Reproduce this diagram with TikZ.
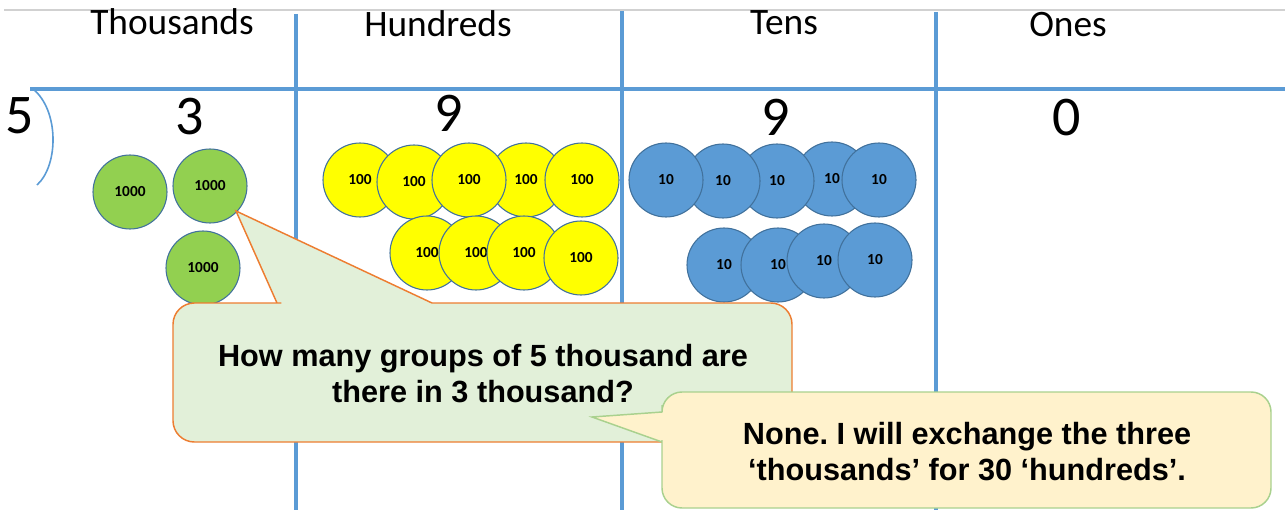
\documentclass[tikz,border=0pt]{standalone}
\usepackage{fontspec}
\setmainfont{Carlito}
\newfontfamily\callfont{Liberation Sans}
\frenchspacing
\definecolor{gridblue}{HTML}{5B9BD5}
\definecolor{coinedge}{HTML}{41719C}
\definecolor{coingreen}{HTML}{92D050}
\definecolor{coinyellow}{HTML}{FFFF00}
\definecolor{coinblue}{HTML}{5B9BD5}
\definecolor{qfill}{HTML}{E2F0D9}
\definecolor{qedge}{HTML}{ED7D31}
\definecolor{afill}{HTML}{FFF2CC}
\definecolor{aedge}{HTML}{A9D18E}
\begin{document}
\begin{tikzpicture}[x=0.75pt,y=-0.75pt,
  coin/.style={circle,draw=coinedge,line width=0.8pt,minimum size=55.5pt,inner sep=0pt,font=\fontsize{11.5}{13}\selectfont\bfseries},
  coinK/.style={coin,fill=coingreen},
  coinH/.style={coin,fill=coinyellow},
  coinT/.style={coin,fill=coinblue},
  header/.style={anchor=base,font=\fontsize{28}{32}\selectfont},
  digit/.style={anchor=base,font=\fontsize{42}{48}\selectfont},
  grid/.style={draw=gridblue,line width=2.6pt},
  calltext/.style={anchor=base,font=\callfont\fontsize{23}{27}\selectfont\bfseries},
  qbox/.style={fill=qfill,draw=qedge,line width=1.1pt},
  abox/.style={fill=afill,draw=aedge,line width=1.1pt}]
\useasboundingbox (0,0) rectangle (1285,510);
% frame lines
\draw[black!18,line width=0.8pt] (4,10) -- (1285,10);
\draw[grid] (30,89) -- (1285,89);
\draw[grid] (296,14) -- (296,510);
\draw[grid] (622,11) -- (622,510);
\draw[grid] (936,12) -- (936,510);
\draw[draw=gridblue,line width=1.2pt] (33,89) .. controls (59,110) and (59,165) .. (37,185);
% headers
\node[header] (hK) at (172,35) {Thousands};
\node[header] (hH) at (438,37) {Hundreds};
\node[header] (hT) at (784,35) {Tens};
\node[header] (hO) at (1068,37) {Ones};
% digits
\node[digit] (dv) at (20,133) {5};
\node[digit] (d3) at (190,134) {3};
\node[digit] (d9a) at (449,131) {9};
\node[digit] (d9b) at (776,135) {9};
\node[digit] (d0) at (1067,135) {0};
% thousands coins
\node[coinK] (k1) at (130,192) {1000};
\node[coinK] (k2) at (210,186) {1000};
\node[coinK] (k3) at (203,268) {1000};
% hundreds coins
\node[coinH] (y1) at (360,180) {100};
\node[coinH] (y2) at (414,182) {100};
\node[coinH] (y4) at (526,180) {100};
\node[coinH] (y3) at (469,180) {100};
\node[coinH] (y5) at (582,180) {100};
\node[coinH] (y6) at (427,253) {100};
\node[coinH] (y7) at (476,253) {100};
\node[coinH] (y8) at (524,253) {100};
\node[coinH] (y9) at (581,258) {100};
% tens coins
\node[coinT] (b4) at (832,179) {10};
\node[coinT] (b5) at (879,180) {10};
\node[coinT] (b3) at (777,181) {10};
\node[coinT] (b2) at (723,181) {10};
\node[coinT] (b1) at (666,180) {10};
\node[coinT] (b6) at (724,265) {10};
\node[coinT] (b7) at (778,265) {10};
\node[coinT] (b8) at (824,261) {10};
\node[coinT] (b9) at (875,260) {10};
% question callout
\draw[qbox] (480,442) [rounded corners=16] -- (173,442) -- (173,303) -- (260,303) [sharp corners] -- (277,303) -- (236,211) -- (432,303) -- (450,303) [rounded corners=16] -- (792,303) -- (792,442) -- cycle;
\node[calltext] (q1) at (483,366) {How many groups of 5 thousand are};
\node[calltext] (q2) at (483,402) {there in 3 thousand?};
% answer callout
\draw[abox] (900,508) [rounded corners=15] -- (662,508) -- (662,460) [sharp corners] -- (662,442) -- (592,417) -- (662,412) -- (662,405) [rounded corners=15] -- (662,392) -- (1271,392) -- (1271,508) -- cycle;
\node[calltext] (a1) at (967,444) {None. I will exchange the three};
\node[calltext] (a2) at (967,480) {‘thousands’ for 30 ‘hundreds’.};
\end{tikzpicture}
\end{document}
